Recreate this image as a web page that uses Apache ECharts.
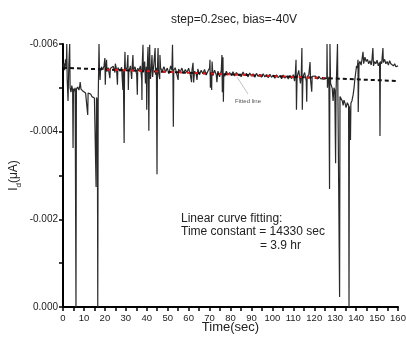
<!DOCTYPE html>
<html>
<head>
<meta charset="UTF-8">
<title>Id vs time</title>
<script src="https://cdn.jsdelivr.net/npm/echarts@6/dist/echarts.min.js"></script>
<style>
html, body { margin: 0; padding: 0; background: #fff; }
#chart { width: 406px; height: 338px; }
</style>
</head>
<body>
<div id="chart"></div>
<script>
var trace = [
  [0.0,-0.00548],[0.4,-0.00556],[0.8,-0.00540],[1.2,-0.00565],[1.6,-0.00548],[1.8,-0.00600],[2.0,-0.00520],
  [2.4,-0.00470],[2.8,-0.00555],[3.2,-0.00600],[3.4,-0.00500],[3.8,-0.00490],[4.2,-0.00505],[4.6,-0.00495],
  [4.8,-0.00363],[5.0,-0.00498],[5.4,-0.00492],[5.8,-0.00500],[6.0,-0.00496],[6.2,0.00000],[6.4,-0.00497],
  [7.0,-0.00502],[7.6,-0.00495],[8.0,-0.00505],[8.2,-0.00513],[8.6,-0.00497],[9.0,-0.00500],[9.6,-0.00492],
  [10.2,-0.00495],[10.8,-0.00488],[11.4,-0.00490],[11.8,-0.00438],[12.0,-0.00488],[12.6,-0.00484],
  [13.2,-0.00486],[13.8,-0.00480],[14.4,-0.00482],[15.0,-0.00477],[15.4,-0.00479],[15.8,-0.00274],
  [16.0,-0.00478],[16.4,-0.00470],[16.6,0.00000],[16.8,-0.00470],[17.2,-0.00600],[17.4,-0.00545],
  [17.7,-0.00518],[17.9,-0.00538],[18.4,-0.00548],[19.0,-0.00541],[19.6,-0.00550],[20.0,-0.00568],
  [20.2,-0.00507],[20.4,-0.00543],[20.8,-0.00564],[21.0,-0.00537],[21.6,-0.00546],[22.2,-0.00528],
  [22.4,-0.00522],[22.6,-0.00544],[23.2,-0.00540],[24.0,-0.00549],[24.8,-0.00535],[25.0,-0.00555],
  [25.6,-0.00541],[26.0,-0.00507],[26.2,-0.00546],[27.2,-0.00538],[28.0,-0.00547],[28.6,-0.00495],
  [28.8,-0.00542],[29.2,-0.00374],[29.4,-0.00545],[29.6,-0.00582],[29.8,-0.00540],[30.6,-0.00546],
  [31.0,-0.00575],[31.2,-0.00495],[31.4,-0.00536],[32.2,-0.00550],[32.8,-0.00520],[33.0,-0.00544],
  [33.4,-0.00575],[33.6,-0.00541],[34.4,-0.00548],[35.2,-0.00530],[35.5,-0.00484],[35.7,-0.00545],
  [36.2,-0.00539],[37.0,-0.00550],[37.6,-0.00518],[37.7,-0.00472],[37.8,-0.00545],[38.2,-0.00598],
  [38.4,-0.00535],[39.0,-0.00560],[39.4,-0.00510],[39.8,-0.00548],[40.0,-0.00450],[40.2,-0.00540],
  [40.6,-0.00593],[40.8,-0.00530],[41.0,-0.00402],[41.2,-0.00545],[41.4,-0.00598],[41.6,-0.00530],
  [41.8,-0.00520],[42.2,-0.00548],[42.5,-0.00575],[42.8,-0.00525],[43.4,-0.00555],[44.0,-0.00591],
  [44.2,-0.00530],[44.6,-0.00546],[44.9,-0.00303],[45.1,-0.00540],[45.4,-0.00591],[45.6,-0.00535],
  [46.2,-0.00520],[46.3,-0.00575],[46.6,-0.00545],[47.4,-0.00538],[48.2,-0.00548],[49.0,-0.00536],
  [49.8,-0.00545],[50.6,-0.00532],[51.4,-0.00550],[52.0,-0.00540],[52.3,-0.00598],[52.5,-0.00536],
  [52.7,-0.00411],[52.9,-0.00540],[53.6,-0.00546],[54.4,-0.00530],[55.0,-0.00518],[55.2,-0.00543],
  [56.0,-0.00536],[56.8,-0.00545],[57.6,-0.00533],[58.4,-0.00542],[59.2,-0.00535],[60.0,-0.00545],
  [60.8,-0.00530],[61.4,-0.00513],[61.6,-0.00540],[62.1,-0.00557],[62.4,-0.00512],[62.8,-0.00538],
  [63.6,-0.00532],[64.0,-0.00518],[64.4,-0.00543],[65.2,-0.00530],[66.0,-0.00540],[66.8,-0.00532],
  [67.6,-0.00542],[68.4,-0.00529],[69.2,-0.00538],[70.0,-0.00545],[70.2,-0.00564],[70.4,-0.00500],
  [70.8,-0.00535],[71.0,-0.00495],[71.2,-0.00560],[71.6,-0.00528],[72.4,-0.00540],[73.2,-0.00530],
  [73.5,-0.00513],[74.0,-0.00538],[74.8,-0.00525],[75.6,-0.00540],[75.9,-0.00575],[76.1,-0.00490],
  [76.4,-0.00570],[76.6,-0.00468],[76.8,-0.00532],[77.2,-0.00526],
  [78.0,-0.00538],[78.8,-0.00530],[79.6,-0.00535],[80.4,-0.00528],[81.2,-0.00537],[82.0,-0.00527],
  [82.8,-0.00535],[83.6,-0.00530],[84.4,-0.00534],[85.2,-0.00526],[86.0,-0.00536],[86.8,-0.00528],
  [87.6,-0.00533],[88.4,-0.00525],[89.2,-0.00534],[90.0,-0.00527],[90.8,-0.00532],[91.6,-0.00524],
  [92.4,-0.00533],[93.2,-0.00526],[94.0,-0.00531],[94.8,-0.00524],[95.6,-0.00532],[96.4,-0.00525],
  [97.2,-0.00530],[98.0,-0.00523],[98.8,-0.00531],[99.6,-0.00524],[100.4,-0.00529],[101.2,-0.00522],
  [102.0,-0.00530],[102.8,-0.00523],[103.6,-0.00528],[104.4,-0.00521],[105.2,-0.00529],[106.0,-0.00522],
  [106.8,-0.00527],[107.6,-0.00520],[108.4,-0.00528],[109.2,-0.00521],[110.0,-0.00530],[110.6,-0.00515],
  [111.0,-0.00535],[111.3,-0.00564],[111.5,-0.00450],[111.8,-0.00525],[112.6,-0.00540],[113.4,-0.00510],
  [113.8,-0.00530],[114.1,-0.00591],[114.3,-0.00450],[114.6,-0.00525],[115.4,-0.00535],[116.2,-0.00515],
  [116.4,-0.00468],[116.6,-0.00525],[117.4,-0.00530],[118.0,-0.00559],[118.2,-0.00520],[118.8,-0.00491],
  [119.0,-0.00526],[119.8,-0.00522],[120.6,-0.00527],[121.4,-0.00520],[122.2,-0.00526],[123.0,-0.00521],
  [123.8,-0.00525],[124.6,-0.00520],[125.4,-0.00524],[126.0,-0.00522],[126.1,-0.00600],[126.3,-0.00500],
  [126.6,-0.00525],[127.0,-0.00515],[127.3,-0.00269],[127.5,-0.00600],[127.8,-0.00510],[128.2,-0.00505],
  [128.6,-0.00498],[129.0,-0.00470],[129.4,-0.00500],[129.8,-0.00495],[130.2,-0.00328],[130.4,-0.00490],
  [130.8,-0.00488],[131.1,-0.00600],[131.3,-0.00485],[131.8,-0.00482],[132.1,-0.00023],[132.3,-0.00480],
  [132.8,-0.00476],[133.4,-0.00470],[133.8,-0.00460],[134.2,-0.00472],[134.7,-0.00465],[135.2,-0.00455],
  [135.8,-0.00466],[136.4,-0.00460],[136.6,0.00000],[136.8,-0.00458],[137.3,-0.00381],[137.5,-0.00465],
  [138.0,-0.00470],[138.6,-0.00485],[139.0,-0.00500],[139.4,-0.00520],[139.8,-0.00535],[140.2,-0.00550],
  [140.6,-0.00545],[140.9,-0.00564],[141.0,-0.00445],[141.4,-0.00555],[141.8,-0.00560],[142.4,-0.00552],
  [142.8,-0.00565],[143.3,-0.00582],[143.6,-0.00555],[144.2,-0.00570],[144.8,-0.00560],[145.4,-0.00565],
  [146.0,-0.00555],[146.6,-0.00562],[147.2,-0.00552],[147.6,-0.00566],[148.0,-0.00591],[148.3,-0.00550],
  [148.8,-0.00560],[149.4,-0.00555],[150.0,-0.00563],[150.6,-0.00550],[151.2,-0.00558],[151.4,-0.00390],
  [151.6,-0.00560],[152.2,-0.00555],[152.8,-0.00591],[153.0,-0.00558],[153.6,-0.00565],[154.2,-0.00555],
  [154.8,-0.00560],[155.4,-0.00552],[156.0,-0.00562],[156.6,-0.00555],[157.2,-0.00558],[157.8,-0.00550],
  [158.4,-0.00555],[159.0,-0.00548],[159.6,-0.00552],[160.0,-0.00550]
];

// linear fit, black dashed over whole range, red over fitted part
var fitAll = [[0, -0.005457], [160, -0.005156]];
var fitPart = [[21, -0.005418], [125, -0.005222]];

var font = "'Liberation Sans', Arial, sans-serif";

var myChart = echarts.init(document.getElementById('chart'));
var option = {
    animation: false,
    title: {
        text: 'step=0.2sec, bias=-40V',
        left: 166,
        top: 9,
        textStyle: { fontFamily: font, fontSize: 12, fontWeight: 'normal', color: '#222' }
    },
    grid: { left: 63, right: 8, top: 44, bottom: 31, outerBoundsMode: 'none' },
    xAxis: {
        type: 'value',
        min: 0, max: 160, interval: 10,
        name: 'Time(sec)',
        nameLocation: 'middle',
        nameGap: 14,
        nameMoveOverlap: false,
        nameTextStyle: { fontFamily: font, fontSize: 13, color: '#222' },
        axisLine: { lineStyle: { color: '#000', width: 2 } },
        axisTick: { length: 4, lineStyle: { color: '#000', width: 1.5 } },
        minorTick: { show: true, splitNumber: 2, length: 4, lineStyle: { color: '#000', width: 1.5 } },
        axisLabel: { fontFamily: font, fontSize: 9.5, color: '#222', margin: 6 },
        splitLine: { show: false }
    },
    yAxis: {
        type: 'value',
        min: -0.006, max: 0, interval: 0.002,
        inverse: true,
        name: '{i|I}{d|d}{i|(μA)}',
        nameLocation: 'middle',
        nameRotate: 90,
        nameGap: 40,
        nameMoveOverlap: false,
        nameTextStyle: {
            fontFamily: font, color: '#222',
            rich: {
                i: { fontFamily: font, fontSize: 12, color: '#222', lineHeight: 15, verticalAlign: 'top' },
                d: { fontFamily: font, fontSize: 8, color: '#222', lineHeight: 8, verticalAlign: 'bottom' }
            }
        },
        axisLine: { show: true, lineStyle: { color: '#000', width: 2 } },
        axisTick: { show: true, length: 4, lineStyle: { color: '#000', width: 1.5 } },
        minorTick: { show: true, splitNumber: 2, length: 4, lineStyle: { color: '#000', width: 1.5 } },
        axisLabel: {
            fontFamily: font, fontSize: 10, color: '#222', margin: 5,
            formatter: function (v) { return v.toFixed(3); }
        },
        splitLine: { show: false }
    },
    series: [
        {
            name: 'Id',
            type: 'line',
            data: trace,
            symbol: 'none',
            lineStyle: { color: '#2a2a2a', width: 1.2 },
            z: 2
        },
        {
            name: 'fit',
            type: 'line',
            data: fitAll,
            symbol: 'none',
            lineStyle: { color: '#111', width: 2, type: [4, 3] },
            z: 3
        },
        {
            name: 'fitted',
            type: 'line',
            data: fitPart,
            symbol: 'none',
            lineStyle: { color: '#e8141a', width: 2, type: [3, 5] },
            z: 4
        }
    ],
    graphic: [
        { type: 'line', shape: { x1: 237, y1: 77, x2: 248, y2: 94 }, style: { stroke: '#999', lineWidth: 0.6 } },
        { type: 'text', left: 235, top: 98, style: { text: 'Fitted line', fontFamily: font, fontSize: 6, fill: '#555' } },
        { type: 'text', left: 181, top: 213, style: { text: 'Linear curve fitting:', fontFamily: font, fontSize: 12, fill: '#222' } },
        { type: 'text', left: 181, top: 226, style: { text: 'Time constant = 14330 sec', fontFamily: font, fontSize: 12, fill: '#222' } },
        { type: 'text', left: 260, top: 240, style: { text: '= 3.9 hr', fontFamily: font, fontSize: 12, fill: '#222' } }
    ]
};
myChart.setOption(option);
</script>
</body>
</html>
